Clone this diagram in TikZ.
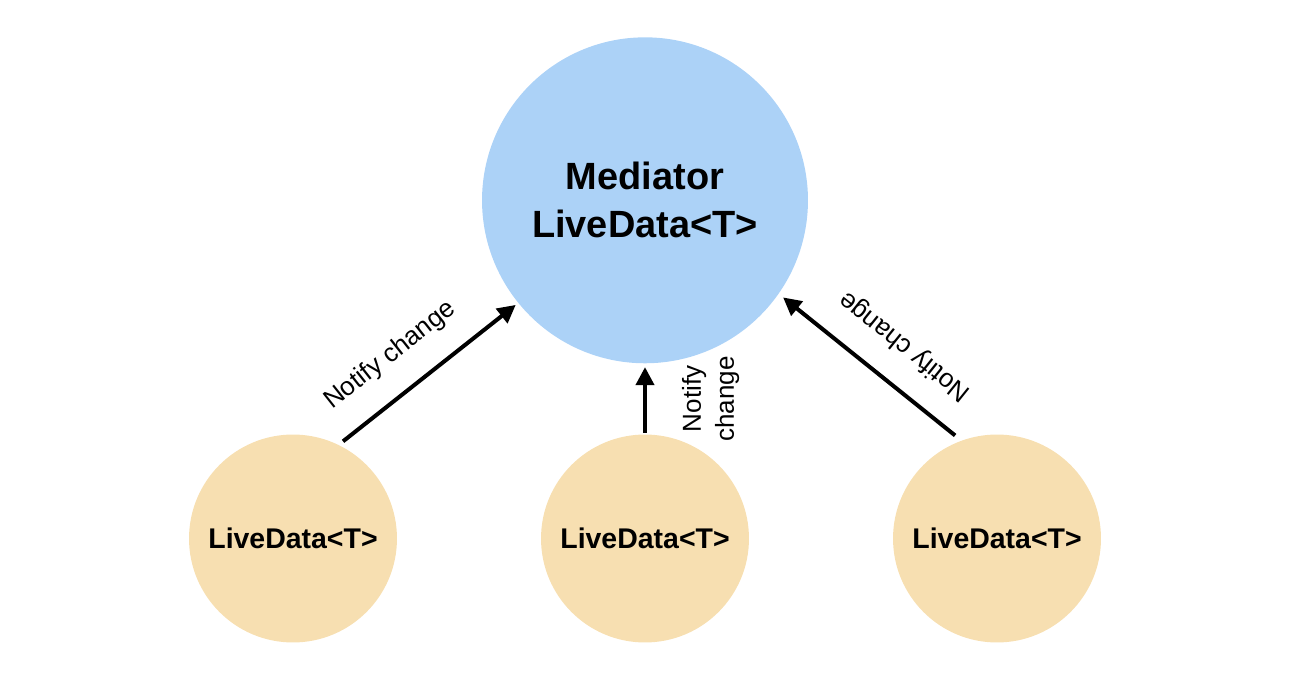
\documentclass[tikz,border=0pt]{standalone}
\usepackage{fontspec}
\setmainfont{Liberation Sans}
\usetikzlibrary{arrows.meta, math}
\definecolor{medblue}{HTML}{ACD2F7}
\definecolor{livetan}{HTML}{F7DFB1}
\tikzset{
mediator/.style={circle, fill=medblue, minimum size=6.52cm, inner sep=0pt, align=center,
                 font=\fontsize{21.6}{27.3}\selectfont\bfseries},
live/.style={circle, fill=livetan, minimum size=4.16cm, inner sep=0pt,
             font=\fontsize{16.2}{19}\selectfont\bfseries},
notify/.style={-{Triangle[length=0.36cm, width=0.36cm]}, line width=0.08cm},
notelabel/.style={inner sep=0pt, align=center, font=\fontsize{14.8}{18.8}\selectfont},
}

\begin{document}
\begin{tikzpicture}[x=0.02cm, y=0.02cm]
    \tikzmath{ \low=135.5; };  % height of the row of small circles

    \useasboundingbox (0,0) rectangle (1298,674);

    %node at the top
    \node[mediator] (med) at (645,473.7) {Mediator\\LiveData<T>};

    %nodes at the bottom
    \node[live] (lv1) at (293,\low) {LiveData<T>};
    \node[live] (lv2) at (645,\low) {LiveData<T>};
    \node[live] (lv3) at (997,\low) {LiveData<T>};

    % arrows
    \draw[notify, shorten <=0.11cm, shorten >=0.06cm] (lv1.64) --
        node[notelabel, sloped, pos=0.42, above=0.48cm] {Notify change} (med.219);
    \draw[notify, shorten <=0.03cm, shorten >=0.07cm] (lv2.north) --
        node[notelabel, sloped, midway, below=0.7cm] {Notify\\change} (med.south);
    \draw[notify, shorten <=0.16cm, shorten >=0.11cm] (lv3.110) --
        node[notelabel, sloped, allow upside down, pos=0.44, below=0.48cm] {Notify change} (med.325);
\end{tikzpicture}
\end{document}
